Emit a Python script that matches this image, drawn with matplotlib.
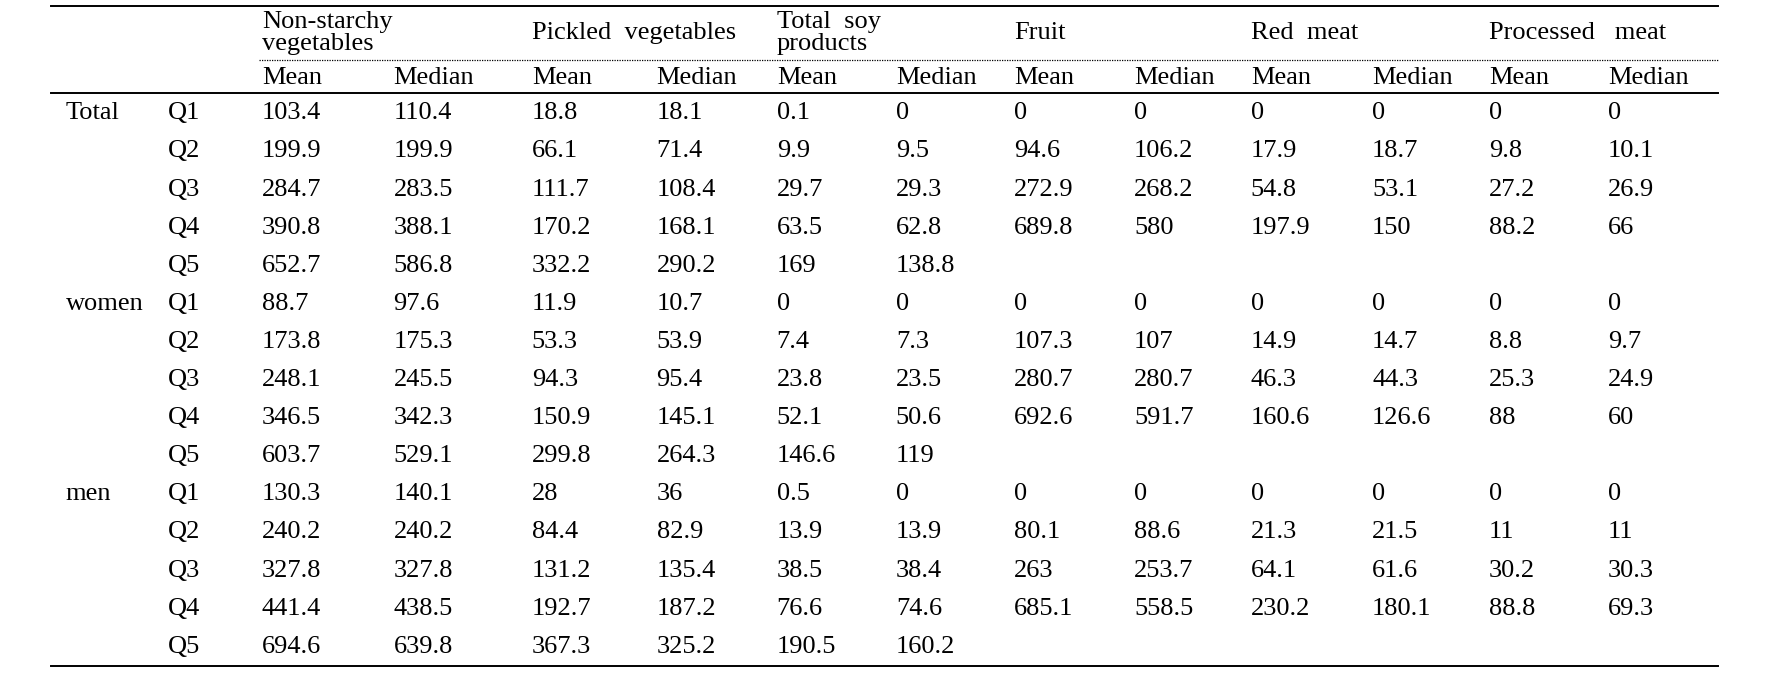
import matplotlib.pyplot as plt

plt.rcParams['font.family'] = ['Liberation Serif', 'DejaVu Serif']

# food groups and the two statistics shown for each
foods = ["Non-starchy\nvegetables", "Pickled  vegetables", "Total  soy\nproducts",
         "Fruit", "Red  meat", "Processed   meat"]
stats = ["Mean", "Median"]
groups = ["Total", "women", "men"]
quintiles = ["Q1", "Q2", "Q3", "Q4", "Q5"]

# rows: group x quintile, columns: food x (mean, median); "" = empty cell
total = [
    ["103.4", "110.4", "18.8", "18.1", "0.1", "0", "0", "0", "0", "0", "0", "0"],
    ["199.9", "199.9", "66.1", "71.4", "9.9", "9.5", "94.6", "106.2", "17.9", "18.7", "9.8", "10.1"],
    ["284.7", "283.5", "111.7", "108.4", "29.7", "29.3", "272.9", "268.2", "54.8", "53.1", "27.2", "26.9"],
    ["390.8", "388.1", "170.2", "168.1", "63.5", "62.8", "689.8", "580", "197.9", "150", "88.2", "66"],
    ["652.7", "586.8", "332.2", "290.2", "169", "138.8", "", "", "", "", "", ""],
]
women = [
    ["88.7", "97.6", "11.9", "10.7", "0", "0", "0", "0", "0", "0", "0", "0"],
    ["173.8", "175.3", "53.3", "53.9", "7.4", "7.3", "107.3", "107", "14.9", "14.7", "8.8", "9.7"],
    ["248.1", "245.5", "94.3", "95.4", "23.8", "23.5", "280.7", "280.7", "46.3", "44.3", "25.3", "24.9"],
    ["346.5", "342.3", "150.9", "145.1", "52.1", "50.6", "692.6", "591.7", "160.6", "126.6", "88", "60"],
    ["603.7", "529.1", "299.8", "264.3", "146.6", "119", "", "", "", "", "", ""],
]
men = [
    ["130.3", "140.1", "28", "36", "0.5", "0", "0", "0", "0", "0", "0", "0"],
    ["240.2", "240.2", "84.4", "82.9", "13.9", "13.9", "80.1", "88.6", "21.3", "21.5", "11", "11"],
    ["327.8", "327.8", "131.2", "135.4", "38.5", "38.4", "263", "253.7", "64.1", "61.6", "30.2", "30.3"],
    ["441.4", "438.5", "192.7", "187.2", "76.6", "74.6", "685.1", "558.5", "230.2", "180.1", "88.8", "69.3"],
    ["694.6", "639.8", "367.3", "325.2", "190.5", "160.2", "", "", "", "", "", ""],
]
group_rows = [total, women, men]

W, H = 1568, 605
fig = plt.figure(figsize=(17.78, 6.86), dpi=100)
ax = fig.add_axes([0, 0, 1, 1])
ax.set_xlim(0, W)
ax.set_ylim(H, 0)
ax.axis('off')

fs = 19
col_x = [231, 347, 469, 579, 685, 790, 894, 1000, 1103, 1210, 1313, 1418]
x_group, x_q = 58, 148
x_left, x_right = 45, 1515

# rules
ax.plot([x_left, x_right], [5, 5], color='black', lw=1.4)
ax.plot([228, x_right], [53, 53], color='black', lw=0.9, ls=(0, (1, 1)))
ax.plot([x_left, x_right], [82, 82], color='black', lw=1.4)
ax.plot([x_left, x_right], [587, 587], color='black', lw=1.4)

# header
for i, f in enumerate(foods):
    if "\n" in f:
        a, b = f.split("\n")
        ax.text(col_x[2 * i], 19, a, fontsize=fs, va='center', ha='left')
        ax.text(col_x[2 * i], 39, b, fontsize=fs, va='center', ha='left')
    else:
        ax.text(col_x[2 * i], 29, f, fontsize=fs, va='center', ha='left')
for j, x in enumerate(col_x):
    ax.text(x, 69, stats[j % 2], fontsize=fs, va='center', ha='left')

# body
row_h = 33.6
y0 = 100
r = 0
for g, rows in zip(groups, group_rows):
    for qi, vals in enumerate(rows):
        y = y0 + r * row_h
        if qi == 0:
            ax.text(x_group, y, g, fontsize=fs, va='center', ha='left')
        ax.text(x_q, y, quintiles[qi], fontsize=fs, va='center', ha='left')
        for x, v in zip(col_x, vals):
            ax.text(x, y, v, fontsize=fs, va='center', ha='left')
        r += 1

fig.savefig("out.png", dpi=100)
